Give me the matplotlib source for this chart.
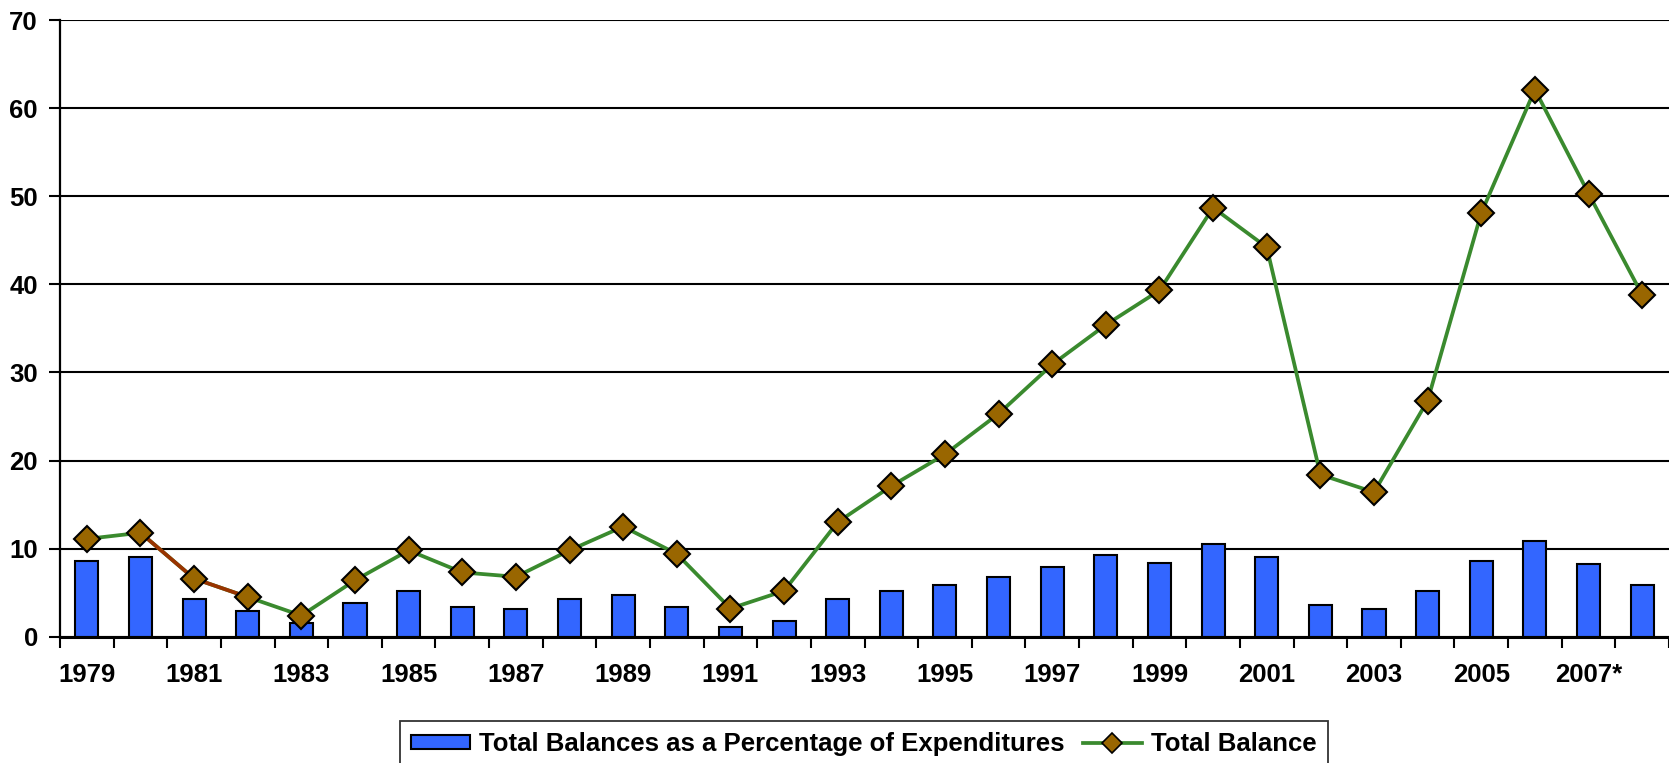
import matplotlib
matplotlib.use("Agg")
import matplotlib.pyplot as plt
from matplotlib.lines import Line2D
from matplotlib.patches import Patch
import numpy as np

plt.rcParams['font.family'] = ['Liberation Sans', 'DejaVu Sans']

years = list(range(1979, 2009))
total_balance = [11.1, 11.8, 6.6, 4.5, 2.4, 6.4, 9.8, 7.3, 6.8, 9.8,
                 12.5, 9.4, 3.2, 5.2, 13.0, 17.1, 20.7, 25.3, 30.9, 35.4,
                 39.3, 48.7, 44.2, 18.4, 16.4, 26.8, 48.1, 62.1, 50.3, 38.8]
pct_expend = [8.6, 9.05, 4.3, 2.9, 1.6, 3.8, 5.2, 3.4, 3.1, 4.3,
              4.7, 3.4, 1.1, 1.8, 4.3, 5.2, 5.9, 6.8, 7.9, 9.3,
              8.4, 10.5, 9.1, 3.6, 3.2, 5.2, 8.6, 10.9, 8.2, 5.9]
tick_labels = [str(y) if (y - 1979) % 2 == 0 else '' for y in years]
tick_labels[years.index(2007)] = '2007*'
highlight_years = [1980, 1981, 1982]

bar_color = '#3366FF'
line_color = '#3A8A2E'
seg_color = '#993300'
marker_color = '#996600'

fig = plt.figure(figsize=(16.69, 7.63), dpi=100)
ax = fig.add_axes([60/1669, 1 - 636.7/763, 1 - 60/1669, (636.7 - 20)/763])

x = np.arange(len(years))
ax.set_axisbelow(True)
ax.yaxis.grid(True, color='black', linewidth=1.5)
ax.bar(x, pct_expend, width=0.43, color=bar_color, edgecolor='black',
       linewidth=1.5, zorder=2)
ax.plot(x, total_balance, color=line_color, linewidth=2.7, zorder=3)
hi = [years.index(y) for y in highlight_years]
ax.plot(x[hi], [total_balance[i] for i in hi], color=seg_color, linewidth=2.7, zorder=3.5)
ax.plot(x, total_balance, linestyle='none', marker='D', markersize=12.8,
        markerfacecolor=marker_color, markeredgecolor='black',
        markeredgewidth=1.5, zorder=4)

ax.set_xlim(-0.5, len(years) - 0.5)
ax.set_ylim(0, 70)
ax.set_yticks(np.arange(0, 71, 10))
ax.set_xticks(x)
ax.set_xticklabels(tick_labels)
ax.set_xticks(np.arange(-0.5, len(years), 1), minor=True)
ax.tick_params(axis='x', which='major', length=0, pad=19)
ax.tick_params(axis='x', which='minor', length=8, width=1.5, direction='out', color='black')
ax.tick_params(axis='y', which='major', length=8, width=1.5, direction='out', pad=8)
for lab in ax.get_xticklabels() + ax.get_yticklabels():
    lab.set_fontsize(18.5)
    lab.set_fontweight('bold')

for s in ['top', 'right']:
    ax.spines[s].set_visible(False)
ax.spines['left'].set_linewidth(1.6)
ax.spines['bottom'].set_linewidth(2.2)
ax.spines['bottom'].set_zorder(5)

handles = [Patch(facecolor=bar_color, edgecolor='black', linewidth=1.5),
           Line2D([0], [0], color=line_color, linewidth=2.7, marker='D', markersize=10,
                  markerfacecolor=marker_color, markeredgecolor='black', markeredgewidth=1.2)]
labels = ['Total Balances as a Percentage of Expenditures', 'Total Balance']
leg = fig.legend(handles, labels, loc='upper center', bbox_to_anchor=(864/1669, 1 - 720.7/763),
                 ncol=2, frameon=True, fancybox=False, edgecolor='black',
                 prop={'size': 18.5, 'weight': 'bold'}, handlelength=2.3, handleheight=0.45,
                 handletextpad=0.35, columnspacing=0.7, borderpad=0.45, borderaxespad=0)
leg.get_frame().set_linewidth(1.3)

fig.savefig('out.png', dpi=100)
